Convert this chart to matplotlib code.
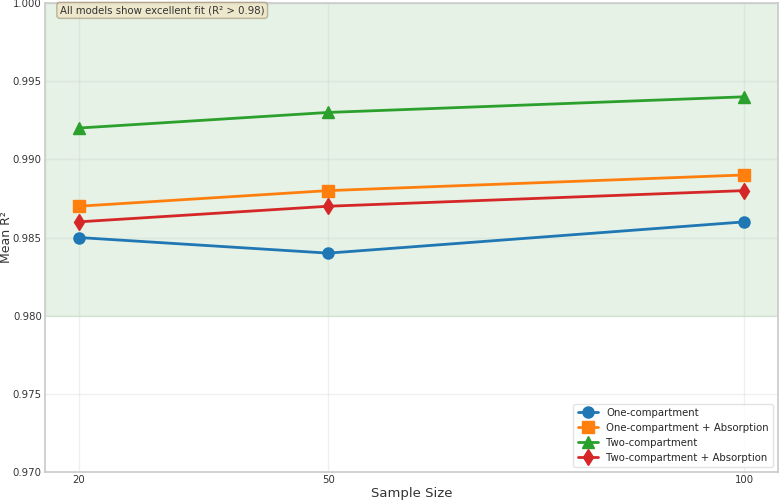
import matplotlib
matplotlib.use("Agg")
import matplotlib.pyplot as plt
import seaborn as sns

sample_sizes = [20, 50, 100]
one_comp = [0.985, 0.984, 0.986]
one_comp_abs = [0.987, 0.988, 0.989]
two_comp = [0.992, 0.993, 0.994]
two_comp_abs = [0.986, 0.987, 0.988]
labels = ["One-compartment", "One-compartment + Absorption", "Two-compartment", "Two-compartment + Absorption"]

sns.set_theme(style="whitegrid")
plt.rcParams['font.family'] = ['DejaVu Sans']

fig, ax = plt.subplots(figsize=(7.8, 5), dpi=100)
ax.axhspan(0.98, 1.0, color="green", alpha=0.1, zorder=0)
series = [one_comp, one_comp_abs, two_comp, two_comp_abs]
markers = ["o", "s", "^", "d"]
colors = ["#1f77b4", "#ff7f0e", "#2ca02c", "#d62728"]
for vals, m, c, lab in zip(series, markers, colors, labels):
    ax.plot(sample_sizes, vals, marker=m, color=c, label=lab, linewidth=2, markersize=8)

ax.set_ylim(0.97, 1.0)
ax.set_xticks(sample_sizes)
ax.set_xlabel("Sample Size", fontsize=9.5, labelpad=1, color="#333333")
ax.set_ylabel("Mean R²", fontsize=9, labelpad=0, color="#333333")
ax.tick_params(labelsize=7.3, pad=2.5, length=0, colors="#333333")
ax.grid(True, alpha=0.3)
leg = ax.legend(loc="lower right", fontsize=7.3, frameon=True)
leg.get_frame().set_edgecolor("#dddddd")
ax.text(0.02, 0.995, "All models show excellent fit (R² > 0.98)", transform=ax.transAxes,
        fontsize=7.3, va="top", ha="left", color="#333333",
        bbox=dict(boxstyle="round,pad=0.3", facecolor="wheat", edgecolor="#8a7a5a", alpha=0.5))
for s in ax.spines.values():
    s.set_color("#cccccc")
fig.subplots_adjust(left=0.058, right=0.997, top=0.994, bottom=0.056)
fig.savefig("out.png", dpi=100)
